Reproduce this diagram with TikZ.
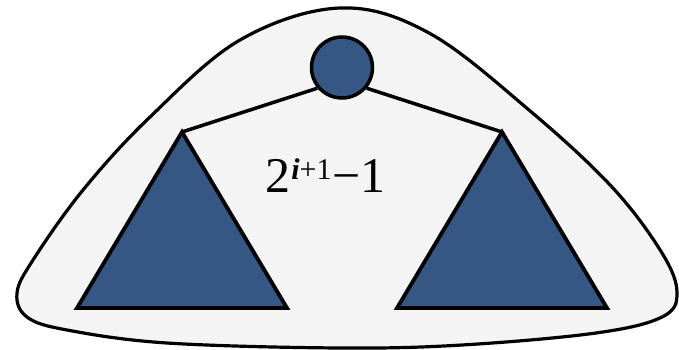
\documentclass[tikz,border=0pt]{standalone}
\usepackage{fontspec}
\setmainfont{Liberation Serif}
\definecolor{blobfill}{HTML}{F4F4F4}
\definecolor{treeblue}{HTML}{365684}
\begin{document}
\begin{tikzpicture}[x=1pt,y=-1pt,
  blob/.style={draw=black,line width=3.2pt,fill=blobfill},
  rootnode/.style={circle,draw=black,line width=3.5pt,fill=treeblue,minimum size=61pt,inner sep=0pt},
  subtree/.style={draw=black,line width=3.8pt,fill=treeblue,line join=miter},
  edge/.style={draw=black,line width=3.5pt}]
\useasboundingbox (0,0) rectangle (679,350);
\draw[blob] plot[smooth cycle,tension=0.6] coordinates {
  (340,8) (429,33) (529,110) (612,187) (662,253) (677,293) (662,317)
  (596,333) (462,345) (340,348) (167,343) (67,330) (27,317) (17,293)
  (33,260) (83,190) (150,117) (240,40)};
\node[rootnode] (root) at (342,67.5) {};
\coordinate (lt) at (182,132);
\coordinate (ltl) at (77,308);
\coordinate (ltr) at (287,308);
\coordinate (rt) at (502,132);
\coordinate (rtl) at (397,308);
\coordinate (rtr) at (607,308);
\draw[subtree] (lt) -- (ltl) -- (ltr) -- cycle;
\draw[subtree] (rt) -- (rtl) -- (rtr) -- cycle;
\draw[edge] (root.-140) -- (lt);
\draw[edge] (root.-40) -- (rt);
\node[anchor=base,inner sep=0pt] (label) at (325.5,192)
  {\fontsize{50}{60}\selectfont 2\kern1pt\raisebox{13pt}{\fontsize{30}{30}\selectfont\textbf{\textit{i}}+1}\kern1pt−1};
\end{tikzpicture}
\end{document}
